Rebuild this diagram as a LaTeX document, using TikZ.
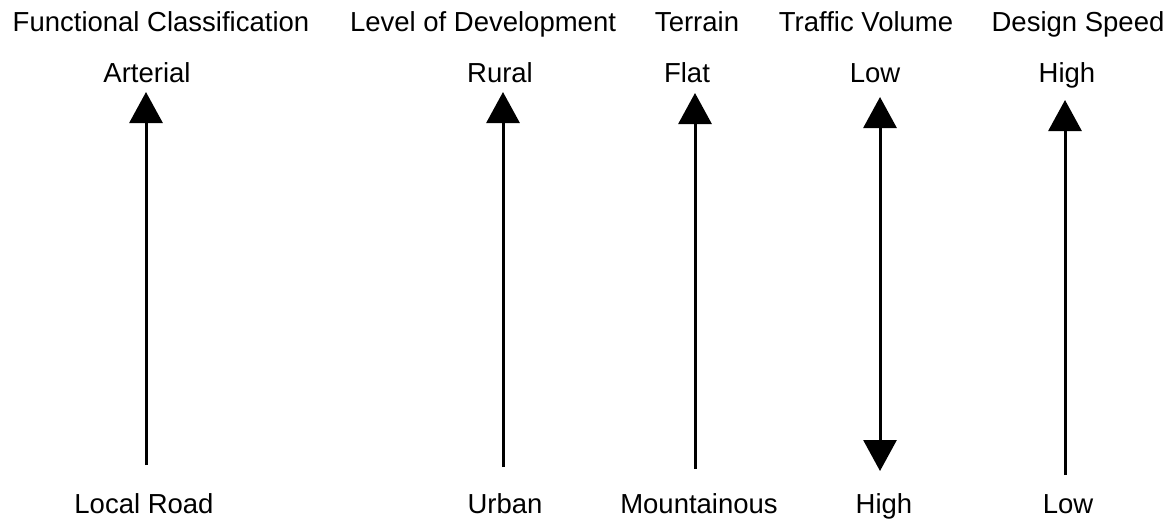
\documentclass[tikz,border=0pt]{standalone}
\usepackage{fontspec}
\setmainfont{Liberation Sans}
\usetikzlibrary{arrows.meta,positioning}
\tikzset{
  lbl/.style={anchor=base,inner sep=0pt,font=\fontsize{27.5}{30}\selectfont},
  scalearrow/.style={-{Triangle[width=33pt,length=31pt]},line width=3pt,black},
  botharrow/.style={{Triangle[width=33pt,length=31pt]}-{Triangle[width=33pt,length=31pt]},line width=3pt,black},
}

\begin{document}
\begin{tikzpicture}[x=1pt,y=-1pt]
  \useasboundingbox (0,0) rectangle (1169,519);
  % headings
  \node[lbl] (hfc) at (161,32) {Functional Classification};
  \node[lbl] (hlod) at (483,32) {Level of Development};
  \node[lbl] (hter) at (697,32) {Terrain};
  \node[lbl] (htv) at (866,32) {Traffic Volume};
  \node[lbl] (hds) at (1078,32) {Design Speed};
  % upper ends
  \node[lbl] (fcT) at (147,82) {Arterial};
  \node[lbl] (lodT) at (500,82) {Rural};
  \node[lbl] (terT) at (687,82) {Flat};
  \node[lbl] (tvT) at (875,82) {Low};
  \node[lbl] (dsT) at (1067,82) {High};
  % lower ends
  \node[lbl] (fcB) at (144,513) {Local Road};
  \node[lbl] (lodB) at (505,513) {Urban};
  \node[lbl] (terB) at (699,513) {Mountainous};
  \node[lbl] (tvB) at (884,513) {High};
  \node[lbl] (dsB) at (1068,513) {Low};
  % arrow ends
  \coordinate (fc0) at (146,465);  \coordinate (fc1) at (146,92);
  \coordinate (lod0) at (503,467); \coordinate (lod1) at (503,92);
  \coordinate (ter0) at (695,469); \coordinate (ter1) at (695,93);
  \coordinate (tv0) at (880,471);  \coordinate (tv1) at (880,97);
  \coordinate (ds0) at (1065,475); \coordinate (ds1) at (1065,100);
  \draw[scalearrow] (fc0) -- (fc1);
  \draw[scalearrow] (lod0) -- (lod1);
  \draw[scalearrow] (ter0) -- (ter1);
  \draw[botharrow] (tv0) -- (tv1);
  \draw[scalearrow] (ds0) -- (ds1);
\end{tikzpicture}
\end{document}
